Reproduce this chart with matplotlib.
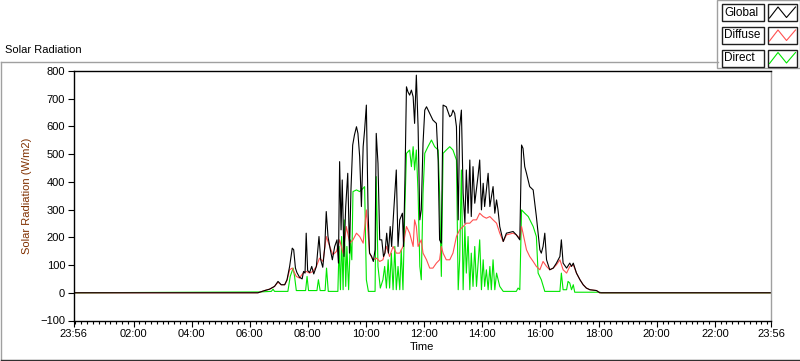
import numpy as np
import matplotlib
matplotlib.use("Agg")
import matplotlib.pyplot as plt
from matplotlib.ticker import FuncFormatter
from matplotlib.patches import Rectangle
from matplotlib.lines import Line2D

plt.rcParams['font.family'] = ['Liberation Sans', 'DejaVu Sans']

# time axis runs 23:56 -> 23:56 (hours from midnight)
START = -4 / 60
END = 24 - 4 / 60

# Global radiation (W/m2)
global_t = [START, 6.28, 6.51, 6.68, 6.85, 6.97, 7.08, 7.20, 7.28, 7.37, 7.46, 7.51, 7.57, 7.62,
            7.71, 7.80, 7.85, 7.90, 7.94, 7.99, 8.06, 8.13, 8.20, 8.29, 8.38, 8.44, 8.51, 8.58,
            8.63, 8.69, 8.76, 8.84, 8.92, 9.00, 9.05, 9.09, 9.14, 9.18, 9.24, 9.30, 9.37, 9.43,
            9.48, 9.54, 9.60, 9.67, 9.72, 9.78, 9.84, 9.90, 9.95, 10.01, 10.07, 10.12, 10.19,
            10.25, 10.31, 10.35, 10.41, 10.47, 10.54, 10.60, 10.65, 10.71, 10.77, 10.83, 10.88,
            10.94, 11.04, 11.10, 11.16, 11.25, 11.29, 11.34, 11.39, 11.44, 11.50, 11.56, 11.62,
            11.67, 11.73, 11.79, 11.85, 11.90, 11.96, 12.02, 12.08, 12.19, 12.30, 12.42, 12.48,
            12.53, 12.59, 12.65, 12.76, 12.88, 12.94, 12.99, 13.05, 13.11, 13.17, 13.22, 13.28,
            13.34, 13.40, 13.45, 13.51, 13.57, 13.62, 13.68, 13.74, 13.85, 13.91, 13.97, 14.03,
            14.08, 14.20, 14.26, 14.37, 14.43, 14.49, 14.54, 14.60, 14.72, 14.83, 15.06, 15.17,
            15.29, 15.35, 15.40, 15.46, 15.52, 15.63, 15.75, 15.86, 15.98, 16.03, 16.09, 16.15,
            16.21, 16.32, 16.44, 16.55, 16.67, 16.72, 16.78, 16.90, 17.01, 17.07, 17.13, 17.24,
            17.36, 17.47, 17.58, 17.70, 17.93, 18.04, END]
global_v = [0, 0, 8, 13, 23, 41, 29, 29, 47, 95, 161, 155, 89, 73,
            56, 50, 77, 71, 215, 80, 73, 95, 68, 95, 203, 119, 92, 167,
            293, 203, 161, 119, 167, 191, 107, 473, 227, 407, 131, 311, 431, 143,
            371, 533, 569, 599, 575, 491, 311, 527, 587, 677, 287, 143, 131,
            113, 155, 575, 467, 191, 191, 131, 143, 215, 143, 239, 167,
            275, 443, 167, 263, 287, 167, 419, 743, 725, 713, 731, 707,
            611, 785, 599, 263, 299, 539, 659, 671, 647, 623, 611, 479,
            191, 179, 677, 671, 635, 641, 659, 647, 599, 263, 599, 659,
            359, 251, 443, 287, 479, 275, 455, 323, 419, 479, 299, 395,
            311, 431, 311, 383, 287, 335, 299, 239, 185, 215, 221, 209,
            191, 533, 521, 455, 431, 383, 371, 275, 155, 143, 167, 215,
            119, 83, 89, 107, 131, 191, 107, 89, 107, 95, 107, 71,
            47, 29, 17, 11, 8, 0, 0]

# Diffuse radiation (W/m2)
diffuse_t = [START, 6.28, 6.51, 6.68, 6.85, 6.97, 7.08, 7.20, 7.28, 7.37, 7.46, 7.60, 7.71,
             7.83, 7.94, 8.06, 8.17, 8.29, 8.40, 8.52, 8.63, 8.75, 8.86, 8.98, 9.09, 9.21,
             9.32, 9.44, 9.55, 9.67, 9.78, 9.90, 10.01, 10.12, 10.24, 10.36, 10.47, 10.58,
             10.70, 10.81, 10.93, 11.04, 11.16, 11.27, 11.39, 11.50, 11.62, 11.67, 11.73,
             11.79, 11.90, 11.96, 12.08, 12.19, 12.30, 12.42, 12.53, 12.59, 12.65, 12.76,
             12.88, 12.99, 13.11, 13.22, 13.34, 13.45, 13.57, 13.68, 13.80, 13.91, 14.03,
             14.14, 14.26, 14.37, 14.49, 14.60, 14.72, 14.83, 15.06, 15.17, 15.29, 15.35,
             15.40, 15.52, 15.63, 15.75, 15.86, 15.98, 16.09, 16.21, 16.32, 16.44, 16.55,
             16.67, 16.78, 16.90, 17.01, 17.13, 17.24, 17.36, 17.47, 17.58, 17.70, 17.93,
             18.04, END]
diffuse_v = [0, 0, 8, 13, 23, 38, 29, 29, 45, 83, 89, 59, 53,
             71, 77, 71, 77, 95, 125, 113, 203, 167, 137, 149, 191, 143,
             239, 179, 191, 215, 203, 179, 299, 143, 119, 125, 113, 119,
             167, 131, 167, 143, 143, 167, 239, 215, 167, 263, 239,
             167, 191, 143, 119, 89, 89, 107, 119, 167, 143, 119,
             119, 143, 203, 227, 239, 251, 251, 263, 263, 287, 275,
             269, 275, 263, 251, 215, 185, 209, 215, 209, 197, 239,
             215, 155, 131, 113, 95, 83, 113, 95, 83, 89, 101,
             119, 83, 71, 95, 101, 71, 47, 29, 17, 11, 8,
             0, 0]

# Direct radiation (W/m2)
direct_t = [START, 6.34, 6.74, 6.80, 6.85, 7.31, 7.39, 7.49, 7.54, 7.60, 7.92, 7.97, 8.02,
            8.31, 8.36, 8.42, 8.59, 8.64, 8.70, 9.03, 9.07, 9.12, 9.16, 9.21, 9.25, 9.30,
            9.34, 9.40, 9.46, 9.51, 9.55, 9.67, 9.78, 9.90, 9.95, 10.01, 10.08, 10.31, 10.35,
            10.41, 10.49, 10.58, 10.64, 10.70, 10.76, 10.81, 10.87, 10.93, 10.99, 11.04,
            11.10, 11.16, 11.21, 11.27, 11.33, 11.39, 11.50, 11.56, 11.62, 11.67, 11.73,
            11.79, 11.85, 11.90, 11.96, 12.02, 12.13, 12.25, 12.36, 12.48, 12.53, 12.59,
            12.65, 12.76, 12.88, 12.99, 13.11, 13.17, 13.22, 13.28, 13.34, 13.40, 13.45,
            13.51, 13.57, 13.62, 13.68, 13.74, 13.80, 13.91, 13.97, 14.03, 14.08, 14.14,
            14.20, 14.26, 14.31, 14.37, 14.43, 14.49, 14.60, 14.72, 15.17, 15.23, 15.29,
            15.35, 15.46, 15.58, 15.75, 15.86, 15.92, 16.03, 16.15, 16.67, 16.72, 16.78,
            16.90, 16.95, 17.01, 17.07, 17.13, 17.18, 18.04, 18.10, END]
direct_v = [0, 3, 5, 13, 5, 5, 59, 89, 59, 8, 8, 59, 8,
            8, 47, 8, 8, 89, 5, 5, 167, 11, 203, 11, 263, 23,
            167, 11, 191, 119, 365, 371, 365, 377, 383, 47, 5, 5, 419,
            95, 17, 47, 95, 17, 119, 17, 143, 11, 167, 11,
            95, 11, 155, 11, 287, 503, 515, 455, 527, 443, 515,
            359, 95, 47, 359, 503, 527, 551, 527, 515, 359, 59,
            503, 515, 527, 515, 479, 11, 119, 443, 11, 239, 71,
            203, 11, 143, 23, 167, 23, 191, 11, 119, 23, 83,
            11, 95, 11, 119, 11, 71, 23, 5, 5, 17, 11,
            299, 287, 275, 239, 203, 71, 47, 5, 5, 71, 11,
            11, 41, 35, 11, 29, 2, 2, 0, 0]


def px(x):
    return x / 800


def py(y):
    return 1 - y / 361


def hhmm(h, pos=None):
    m = int(round(h * 60)) % 1440
    return f"{m // 60:02d}:{m % 60:02d}"


fig = plt.figure(figsize=(8, 3.61), dpi=100)

# outer panel frame
fig.add_artist(Line2D([px(1), px(718)], [py(62), py(62)], color='#a0a0a0', lw=1))
fig.add_artist(Line2D([px(1), px(1)], [py(62), py(359.5)], color='#a0a0a0', lw=1))
fig.add_artist(Line2D([px(1), px(799)], [py(359.5), py(359.5)], color='#303030', lw=1))
fig.text(px(5), py(50), 'Solar Radiation', fontsize=8, va='center', ha='left')

ax = fig.add_axes([px(73.5), py(320.5), px(771 - 73.5), (320.5 - 71) / 361])
ax.plot(direct_t, direct_v, color='#00e600', lw=0.8)
ax.plot(diffuse_t, diffuse_v, color='#ff5050', lw=0.8)
ax.plot(global_t, global_v, color='black', lw=0.8)

ax.set_xlim(START, END)
ax.set_ylim(-100, 800)
ax.set_yticks(range(-100, 801, 100))
ax.set_xticks([START] + list(range(2, 24, 2)) + [END])
ax.set_xticks(np.arange(0, 24, 0.2), minor=True)
ax.xaxis.set_major_formatter(FuncFormatter(hhmm))
ax.tick_params(axis='both', which='major', labelsize=8, length=4, width=0.8, pad=2)
ax.tick_params(axis='x', which='minor', length=2.5, width=0.8)
ax.set_xlabel('Time', fontsize=8, labelpad=2)
ax.set_ylabel('Solar Radiation (W/m2)', fontsize=8, color='#803000', labelpad=6)
for s in ['left', 'bottom', 'top']:
    ax.spines[s].set_linewidth(1)
    ax.spines[s].set_color('black')
ax.spines['right'].set_color('#a0a0a0')
ax.spines['right'].set_linewidth(1)

# legend panel, LabVIEW style
fig.add_artist(Rectangle((px(717), py(68)), px(83), 68 / 361, transform=fig.transFigure,
                         facecolor='white', edgecolor='#a0a0a0', lw=1))
names = ['Global', 'Diffuse', 'Direct']
colors = ['black', '#ff5050', '#00e600']
tops = [4, 27, 49.5]
for name, col, top in zip(names, colors, tops):
    h = 17
    fig.add_artist(Rectangle((px(721.5), py(top + h)), px(42), h / 361, transform=fig.transFigure,
                             facecolor='white', edgecolor='#202020', lw=1))
    fig.add_artist(Rectangle((px(767.5), py(top + h)), px(29.5), h / 361, transform=fig.transFigure,
                             facecolor='white', edgecolor='#202020', lw=1))
    fig.text(px(724), py(top + h / 2), name, fontsize=8.5, va='center', ha='left')
    zx = [769.5, 778, 786.5, 795.5]
    zy = [top + 14, top + 3, top + 13.5, top + 3]
    fig.add_artist(Line2D([px(v) for v in zx], [py(v) for v in zy], color=col, lw=0.8))

fig.savefig('out.png', dpi=100)
